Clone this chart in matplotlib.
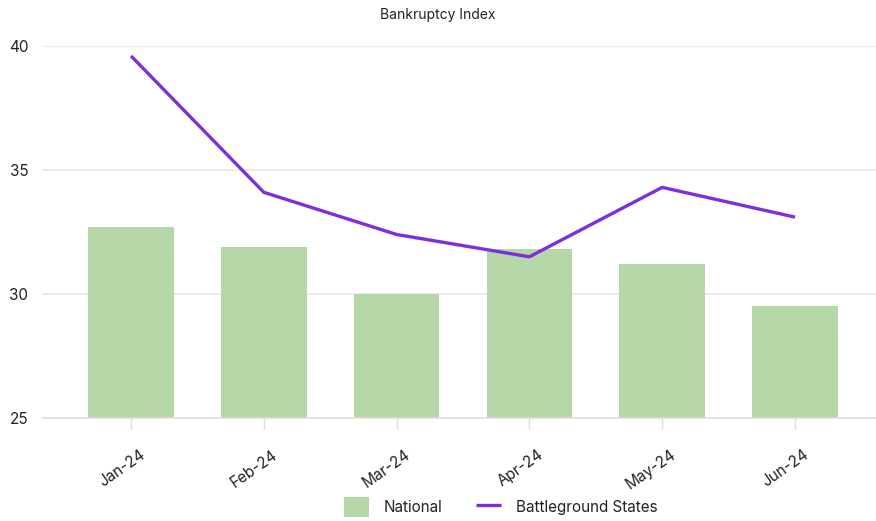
import matplotlib
matplotlib.use('Agg')
import matplotlib.pyplot as plt
import matplotlib.transforms as mtransforms
import numpy as np

plt.rcParams['font.family'] = ['Inter', 'DejaVu Sans']

months = ['Jan-24', 'Feb-24', 'Mar-24', 'Apr-24', 'May-24', 'Jun-24']
national = [32.7, 31.9, 30.0, 31.8, 31.2, 29.5]
battleground = [39.6, 34.1, 32.4, 31.5, 34.3, 33.1]
yticks = [25, 30, 35, 40]

fig = plt.figure(figsize=(8.76, 5.21), dpi=100)
ax = fig.add_axes([0.048, 0.1977, 0.952, 0.714])

x = np.arange(len(months))
bars = ax.bar(x, national, width=0.645, color='#b6d7a8', zorder=2,
              label='National')
line, = ax.plot(x, battleground, color='#7e2fdc', lw=2.4, zorder=3,
                solid_capstyle='butt', label='Battleground States')

ax.set_ylim(25, 40)
ax.set_xlim(-0.67, 5.61)
ax.set_yticks(yticks)
ax.yaxis.grid(True, color='#e6e6e6', lw=1.1, zorder=0)
ax.set_axisbelow(True)
for s in ['top', 'right', 'left']:
    ax.spines[s].set_visible(False)
ax.spines['bottom'].set_color('#dddddd')
ax.spines['bottom'].set_linewidth(1.1)
ax.spines['bottom'].set_zorder(4)

ax.tick_params(axis='y', length=0, pad=10, labelsize=11, labelcolor='#222222')
ax.tick_params(axis='x', length=8, width=1, color='#dddddd', pad=13,
               labelsize=11, labelcolor='#222222')
ax.set_xticks(x)
ax.set_xticklabels(months, rotation=35, ha='right', rotation_mode='anchor')
offset = mtransforms.ScaledTranslation(8 / 100, 0, fig.dpi_scale_trans)
for lbl in ax.get_xticklabels():
    lbl.set_transform(lbl.get_transform() + offset)

fig.text(0.5, 0.971, 'Bankruptcy Index', ha='center', va='center',
         fontsize=10, color='#222222')

leg = fig.legend([bars, line], ['National', 'Battleground States'],
                 loc='center', bbox_to_anchor=(0.572, 0.027), ncol=2,
                 frameon=False, fontsize=11, handlelength=1.6,
                 handleheight=1.6, columnspacing=2.2, handletextpad=1.0)
for t in leg.get_texts():
    t.set_color('#222222')

fig.savefig('out.png', dpi=100)
plt.close()
